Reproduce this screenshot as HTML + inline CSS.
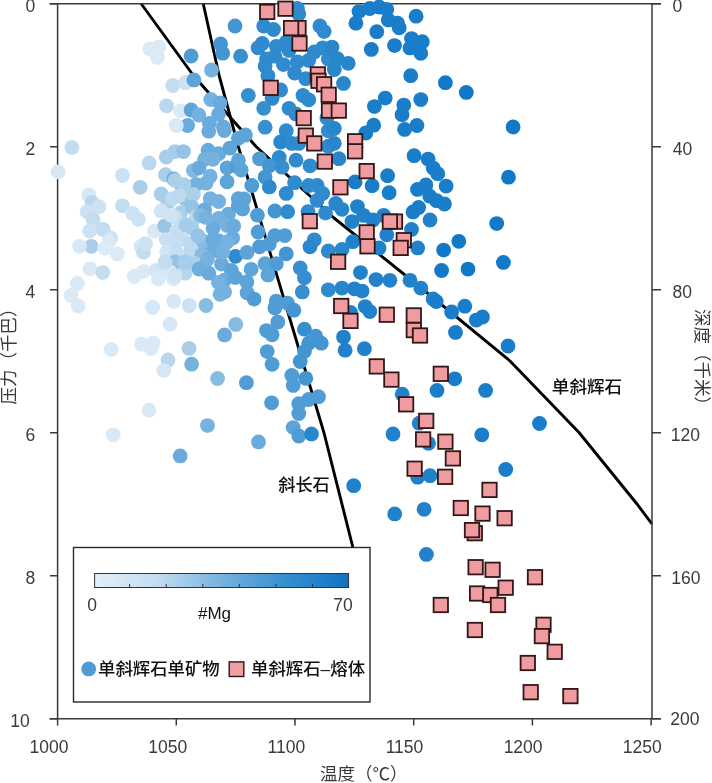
<!DOCTYPE html><html><head><meta charset="utf-8"><style>html,body{margin:0;padding:0;background:#fff;}svg{display:block}</style></head><body><svg width="712" height="783" viewBox="0 0 712 783"><polyline points="141.0,3.5 193.0,75.0 256.0,146.5 334.0,218.0 423.0,289.5 510.0,361.0 579.0,432.5 637.0,504.0 652.0,524.0" fill="none" stroke="#000" stroke-width="2.9" stroke-linejoin="round"/>
<polyline points="203.2,3.5 219.0,75.0 238.3,146.5 323.9,432.5 352.8,547.0" fill="none" stroke="#000" stroke-width="2.9" stroke-linejoin="round"/>
<g stroke="#3a3a3a" stroke-width="1.5" fill="none">
<path d="M49.5,3.7H661M49.5,718.7H661M57.6,3.7V718.7M652,3.7V718.7"/>
<path d="M50,3.7H57.6M652,3.7H661M50,146.7H57.6M652,146.7H661M50,289.7H57.6M652,289.7H661M50,432.7H57.6M652,432.7H661M50,575.7H57.6M652,575.7H661M50,718.7H57.6M652,718.7H661M57.6,718.5V725.5M176.3,718.5V725.5M295.0,718.5V725.5M413.7,718.5V725.5M532.4,718.5V725.5M651.1,718.5V725.5"/>
</g>
<g><circle cx="149.7" cy="49.0" r="7.4" fill="#dceaf6"/><circle cx="158.8" cy="46.9" r="7.4" fill="#dceaf6"/><circle cx="157.4" cy="57.4" r="7.4" fill="#dceaf6"/><circle cx="191.1" cy="56.0" r="7.4" fill="#509dd6"/><circle cx="220.6" cy="44.0" r="7.4" fill="#4496d3"/><circle cx="222.7" cy="53.2" r="7.4" fill="#4496d3"/><circle cx="211.5" cy="70.0" r="7.4" fill="#76b2df"/><circle cx="172.8" cy="85.5" r="7.4" fill="#c3ddf0"/><circle cx="185.5" cy="82.7" r="7.4" fill="#cde2f2"/><circle cx="193.9" cy="79.9" r="7.4" fill="#5da4d9"/><circle cx="166.5" cy="105.8" r="7.4" fill="#bad8ed"/><circle cx="180.6" cy="110.8" r="7.4" fill="#dae9f6"/><circle cx="191.1" cy="110.0" r="7.4" fill="#5da4d9"/><circle cx="198.8" cy="115.0" r="7.4" fill="#76b2df"/><circle cx="210.8" cy="99.5" r="7.4" fill="#76b2df"/><circle cx="219.9" cy="103.0" r="7.4" fill="#69abdc"/><circle cx="218.5" cy="114.3" r="7.4" fill="#69abdc"/><circle cx="209.4" cy="123.4" r="7.4" fill="#69abdc"/><circle cx="223.4" cy="126.9" r="7.4" fill="#69abdc"/><circle cx="187.6" cy="125.5" r="7.4" fill="#69abdc"/><circle cx="176.3" cy="125.5" r="7.4" fill="#dae9f6"/><circle cx="235.0" cy="26.0" r="7.4" fill="#4496d3"/><circle cx="240.6" cy="56.2" r="7.4" fill="#378fd0"/><circle cx="248.3" cy="95.5" r="7.4" fill="#378fd0"/><circle cx="58.1" cy="171.8" r="7.4" fill="#d6e7f5"/><circle cx="71.9" cy="147.4" r="7.4" fill="#c3ddf0"/><circle cx="122.5" cy="175.5" r="7.4" fill="#cde2f2"/><circle cx="149.1" cy="162.9" r="7.4" fill="#bad8ed"/><circle cx="140.2" cy="187.3" r="7.4" fill="#a9ceea"/><circle cx="166.3" cy="157.0" r="7.4" fill="#a9ceea"/><circle cx="165.5" cy="174.7" r="7.4" fill="#a9ceea"/><circle cx="88.8" cy="194.9" r="7.4" fill="#d6e7f5"/><circle cx="92.1" cy="202.5" r="7.4" fill="#bad8ed"/><circle cx="98.9" cy="206.7" r="7.4" fill="#cde2f2"/><circle cx="87.1" cy="211.7" r="7.4" fill="#cde2f2"/><circle cx="93.0" cy="219.3" r="7.4" fill="#c3ddf0"/><circle cx="89.6" cy="231.1" r="7.4" fill="#cde2f2"/><circle cx="103.1" cy="229.4" r="7.4" fill="#c3ddf0"/><circle cx="110.7" cy="237.9" r="7.4" fill="#cde2f2"/><circle cx="91.3" cy="246.3" r="7.4" fill="#a9ceea"/><circle cx="79.5" cy="246.3" r="7.4" fill="#d6e7f5"/><circle cx="122.5" cy="205.8" r="7.4" fill="#c3ddf0"/><circle cx="132.6" cy="213.4" r="7.4" fill="#cde2f2"/><circle cx="138.5" cy="219.3" r="7.4" fill="#cde2f2"/><circle cx="141.0" cy="246.3" r="7.4" fill="#d6e7f5"/><circle cx="161.2" cy="194.0" r="7.4" fill="#a9ceea"/><circle cx="168.0" cy="202.5" r="7.4" fill="#a9ceea"/><circle cx="154.5" cy="231.1" r="7.4" fill="#d8e8f5"/><circle cx="161.2" cy="210.9" r="7.4" fill="#d0e4f3"/><circle cx="164.6" cy="226.0" r="7.4" fill="#98c5e6"/><circle cx="166.3" cy="239.6" r="7.4" fill="#c7dff1"/><circle cx="109.0" cy="241.4" r="7.4" fill="#dae9f6"/><circle cx="104.8" cy="248.4" r="7.4" fill="#deecf7"/><circle cx="117.4" cy="254.0" r="7.4" fill="#dceaf6"/><circle cx="90.0" cy="268.8" r="7.4" fill="#dae9f6"/><circle cx="102.7" cy="272.6" r="7.4" fill="#c3ddf0"/><circle cx="77.4" cy="283.5" r="7.4" fill="#dae9f6"/><circle cx="71.1" cy="295.5" r="7.4" fill="#dceaf6"/><circle cx="78.1" cy="306.0" r="7.4" fill="#dae9f6"/><circle cx="134.3" cy="276.5" r="7.4" fill="#dae9f6"/><circle cx="143.4" cy="271.6" r="7.4" fill="#dae9f6"/><circle cx="143.4" cy="252.0" r="7.4" fill="#c3ddf0"/><circle cx="152.7" cy="307.5" r="7.4" fill="#d6e7f5"/><circle cx="170.1" cy="324.2" r="7.4" fill="#d6e7f5"/><circle cx="111.1" cy="349.5" r="7.4" fill="#dae9f6"/><circle cx="141.6" cy="344.2" r="7.4" fill="#dae9f6"/><circle cx="153.2" cy="343.2" r="7.4" fill="#dae9f6"/><circle cx="151.1" cy="348.4" r="7.4" fill="#dae9f6"/><circle cx="168.0" cy="360.0" r="7.4" fill="#bad8ed"/><circle cx="163.8" cy="370.6" r="7.4" fill="#d6e7f5"/><circle cx="189.0" cy="348.4" r="7.4" fill="#a9ceea"/><circle cx="191.6" cy="364.2" r="7.4" fill="#76b2df"/><circle cx="149.0" cy="410.2" r="7.4" fill="#dae9f6"/><circle cx="113.2" cy="434.8" r="7.4" fill="#dae9f6"/><circle cx="180.2" cy="455.9" r="7.4" fill="#69abdc"/><circle cx="208.8" cy="131.2" r="7.4" fill="#69abdc"/><circle cx="224.3" cy="130.5" r="7.4" fill="#69abdc"/><circle cx="238.3" cy="138.3" r="7.4" fill="#5da4d9"/><circle cx="175.1" cy="151.6" r="7.4" fill="#a6cde9"/><circle cx="183.5" cy="151.6" r="7.4" fill="#95c3e5"/><circle cx="208.1" cy="150.2" r="7.4" fill="#69abdc"/><circle cx="218.7" cy="153.7" r="7.4" fill="#69abdc"/><circle cx="229.9" cy="148.1" r="7.4" fill="#5da4d9"/><circle cx="204.6" cy="159.3" r="7.4" fill="#76b2df"/><circle cx="213.0" cy="159.3" r="7.4" fill="#76b2df"/><circle cx="193.4" cy="170.6" r="7.4" fill="#84bae2"/><circle cx="199.0" cy="167.8" r="7.4" fill="#69abdc"/><circle cx="210.2" cy="176.2" r="7.4" fill="#76b2df"/><circle cx="206.0" cy="183.2" r="7.4" fill="#76b2df"/><circle cx="196.2" cy="184.6" r="7.4" fill="#73b1de"/><circle cx="182.1" cy="186.0" r="7.4" fill="#71afde"/><circle cx="173.7" cy="179.0" r="7.4" fill="#71afde"/><circle cx="227.1" cy="167.8" r="7.4" fill="#5da4d9"/><circle cx="227.1" cy="181.8" r="7.4" fill="#5da4d9"/><circle cx="236.9" cy="166.3" r="7.4" fill="#509dd6"/><circle cx="172.3" cy="198.7" r="7.4" fill="#bedaee"/><circle cx="185.0" cy="198.7" r="7.4" fill="#95c3e5"/><circle cx="193.4" cy="194.4" r="7.4" fill="#acd0ea"/><circle cx="210.2" cy="198.7" r="7.4" fill="#76b2df"/><circle cx="218.7" cy="201.5" r="7.4" fill="#76b2df"/><circle cx="180.7" cy="212.7" r="7.4" fill="#acd0ea"/><circle cx="192.0" cy="207.1" r="7.4" fill="#95c3e5"/><circle cx="204.6" cy="209.9" r="7.4" fill="#69abdc"/><circle cx="228.5" cy="214.1" r="7.4" fill="#69abdc"/><circle cx="238.3" cy="205.7" r="7.4" fill="#5da4d9"/><circle cx="238.3" cy="198.7" r="7.4" fill="#5da4d9"/><circle cx="175.1" cy="216.9" r="7.4" fill="#c5def0"/><circle cx="196.2" cy="216.9" r="7.4" fill="#bcd9ee"/><circle cx="200.4" cy="215.6" r="7.4" fill="#87bce2"/><circle cx="218.7" cy="218.4" r="7.4" fill="#76b2df"/><circle cx="176.5" cy="231.1" r="7.4" fill="#c5def0"/><circle cx="192.0" cy="228.3" r="7.4" fill="#a6cde9"/><circle cx="213.0" cy="228.3" r="7.4" fill="#69abdc"/><circle cx="227.1" cy="225.4" r="7.4" fill="#76b2df"/><circle cx="232.7" cy="238.1" r="7.4" fill="#69abdc"/><circle cx="218.7" cy="240.9" r="7.4" fill="#69abdc"/><circle cx="182.1" cy="239.5" r="7.4" fill="#c5def0"/><circle cx="196.2" cy="242.3" r="7.4" fill="#bcd9ee"/><circle cx="206.0" cy="246.5" r="7.4" fill="#69abdc"/><circle cx="145.6" cy="243.7" r="7.4" fill="#cde2f2"/><circle cx="166.7" cy="252.1" r="7.4" fill="#d0e4f3"/><circle cx="176.5" cy="252.1" r="7.4" fill="#c5def0"/><circle cx="190.6" cy="252.1" r="7.4" fill="#bcd9ee"/><circle cx="201.8" cy="254.9" r="7.4" fill="#87bce2"/><circle cx="215.8" cy="250.7" r="7.4" fill="#69abdc"/><circle cx="235.5" cy="256.3" r="7.4" fill="#308ace"/><circle cx="175.1" cy="262.0" r="7.4" fill="#95c3e5"/><circle cx="194.8" cy="263.4" r="7.4" fill="#acd0ea"/><circle cx="207.4" cy="259.2" r="7.4" fill="#76b2df"/><circle cx="221.5" cy="264.1" r="7.4" fill="#69abdc"/><circle cx="156.2" cy="270.4" r="7.4" fill="#d0e4f3"/><circle cx="169.5" cy="271.8" r="7.4" fill="#d8e8f5"/><circle cx="185.0" cy="273.2" r="7.4" fill="#b7d6ec"/><circle cx="199.0" cy="269.0" r="7.4" fill="#6eaedd"/><circle cx="208.8" cy="273.2" r="7.4" fill="#69abdc"/><circle cx="231.3" cy="270.4" r="7.4" fill="#5da4d9"/><circle cx="224.3" cy="280.2" r="7.4" fill="#69abdc"/><circle cx="158.3" cy="278.8" r="7.4" fill="#dae9f6"/><circle cx="173.7" cy="278.8" r="7.4" fill="#dae9f6"/><circle cx="235.5" cy="277.4" r="7.4" fill="#5da4d9"/><circle cx="220.1" cy="294.3" r="7.4" fill="#76b2df"/><circle cx="173.7" cy="301.3" r="7.4" fill="#d6e7f5"/><circle cx="189.2" cy="305.5" r="7.4" fill="#cde2f2"/><circle cx="206.0" cy="305.5" r="7.4" fill="#87bce2"/><circle cx="224.6" cy="292.1" r="7.4" fill="#76b2df"/><circle cx="247.1" cy="292.8" r="7.4" fill="#5da4d9"/><circle cx="254.1" cy="299.1" r="7.4" fill="#509dd6"/><circle cx="235.8" cy="324.4" r="7.4" fill="#87bce2"/><circle cx="224.6" cy="334.9" r="7.4" fill="#69abdc"/><circle cx="217.6" cy="378.5" r="7.4" fill="#87bce2"/><circle cx="246.4" cy="382.7" r="7.4" fill="#509dd6"/><circle cx="271.6" cy="402.8" r="7.4" fill="#509dd6"/><circle cx="207.5" cy="425.6" r="7.4" fill="#76b2df"/><circle cx="258.5" cy="441.9" r="7.4" fill="#69abdc"/><circle cx="297.4" cy="8.4" r="7.4" fill="#308ace"/><circle cx="298.8" cy="14.0" r="7.4" fill="#308ace"/><circle cx="263.7" cy="26.0" r="7.4" fill="#308ace"/><circle cx="273.5" cy="29.5" r="7.4" fill="#308ace"/><circle cx="262.3" cy="43.5" r="7.4" fill="#308ace"/><circle cx="319.9" cy="26.0" r="7.4" fill="#308ace"/><circle cx="324.1" cy="31.6" r="7.4" fill="#308ace"/><circle cx="258.1" cy="47.8" r="7.4" fill="#308ace"/><circle cx="276.3" cy="46.3" r="7.4" fill="#308ace"/><circle cx="286.2" cy="42.1" r="7.4" fill="#308ace"/><circle cx="289.0" cy="50.6" r="7.4" fill="#308ace"/><circle cx="266.5" cy="59.0" r="7.4" fill="#308ace"/><circle cx="274.9" cy="56.2" r="7.4" fill="#308ace"/><circle cx="283.4" cy="64.6" r="7.4" fill="#308ace"/><circle cx="265.1" cy="66.0" r="7.4" fill="#308ace"/><circle cx="297.4" cy="61.8" r="7.4" fill="#308ace"/><circle cx="308.7" cy="60.4" r="7.4" fill="#308ace"/><circle cx="314.3" cy="52.0" r="7.4" fill="#308ace"/><circle cx="322.7" cy="47.8" r="7.4" fill="#308ace"/><circle cx="328.3" cy="59.0" r="7.4" fill="#308ace"/><circle cx="294.6" cy="73.0" r="7.4" fill="#308ace"/><circle cx="305.8" cy="78.7" r="7.4" fill="#308ace"/><circle cx="267.9" cy="75.8" r="7.4" fill="#308ace"/><circle cx="280.6" cy="89.9" r="7.4" fill="#308ace"/><circle cx="303.0" cy="95.5" r="7.4" fill="#308ace"/><circle cx="272.1" cy="98.4" r="7.4" fill="#308ace"/><circle cx="263.7" cy="108.3" r="7.4" fill="#378fd0"/><circle cx="308.7" cy="99.8" r="7.4" fill="#308ace"/><circle cx="289.0" cy="108.3" r="7.4" fill="#308ace"/><circle cx="296.0" cy="113.9" r="7.4" fill="#308ace"/><circle cx="265.1" cy="127.2" r="7.4" fill="#378fd0"/><circle cx="286.2" cy="130.7" r="7.4" fill="#308ace"/><circle cx="280.6" cy="142.0" r="7.4" fill="#2886cd"/><circle cx="291.8" cy="143.4" r="7.4" fill="#308ace"/><circle cx="298.8" cy="143.4" r="7.4" fill="#308ace"/><circle cx="326.9" cy="118.1" r="7.4" fill="#308ace"/><circle cx="328.3" cy="130.7" r="7.4" fill="#308ace"/><circle cx="328.3" cy="146.2" r="7.4" fill="#308ace"/><circle cx="245.4" cy="135.0" r="7.4" fill="#5da4d9"/><circle cx="238.4" cy="160.2" r="7.4" fill="#5da4d9"/><circle cx="241.2" cy="170.1" r="7.4" fill="#5da4d9"/><circle cx="259.5" cy="158.8" r="7.4" fill="#509dd6"/><circle cx="279.2" cy="157.4" r="7.4" fill="#308ace"/><circle cx="296.0" cy="160.2" r="7.4" fill="#308ace"/><circle cx="310.0" cy="165.8" r="7.4" fill="#308ace"/><circle cx="269.3" cy="165.8" r="7.4" fill="#4496d3"/><circle cx="282.0" cy="167.2" r="7.4" fill="#378fd0"/><circle cx="265.1" cy="177.1" r="7.4" fill="#4496d3"/><circle cx="251.8" cy="185.5" r="7.4" fill="#509dd6"/><circle cx="269.3" cy="186.9" r="7.4" fill="#308ace"/><circle cx="294.6" cy="182.7" r="7.4" fill="#308ace"/><circle cx="308.7" cy="185.5" r="7.4" fill="#308ace"/><circle cx="317.1" cy="185.5" r="7.4" fill="#308ace"/><circle cx="286.2" cy="193.4" r="7.4" fill="#308ace"/><circle cx="317.1" cy="200.4" r="7.4" fill="#308ace"/><circle cx="322.7" cy="193.4" r="7.4" fill="#308ace"/><circle cx="325.5" cy="213.1" r="7.4" fill="#308ace"/><circle cx="244.0" cy="199.0" r="7.4" fill="#5da4d9"/><circle cx="242.6" cy="208.9" r="7.4" fill="#5da4d9"/><circle cx="257.4" cy="215.2" r="7.4" fill="#509dd6"/><circle cx="274.9" cy="211.0" r="7.4" fill="#4496d3"/><circle cx="287.6" cy="211.7" r="7.4" fill="#308ace"/><circle cx="308.0" cy="211.7" r="7.4" fill="#308ace"/><circle cx="258.1" cy="232.0" r="7.4" fill="#509dd6"/><circle cx="274.9" cy="235.6" r="7.4" fill="#509dd6"/><circle cx="284.8" cy="235.6" r="7.4" fill="#509dd6"/><circle cx="314.3" cy="239.8" r="7.4" fill="#308ace"/><circle cx="310.0" cy="246.8" r="7.4" fill="#2886cd"/><circle cx="259.5" cy="246.8" r="7.4" fill="#509dd6"/><circle cx="269.3" cy="244.0" r="7.4" fill="#509dd6"/><circle cx="286.2" cy="253.8" r="7.4" fill="#4496d3"/><circle cx="246.9" cy="252.4" r="7.4" fill="#5da4d9"/><circle cx="251.1" cy="269.3" r="7.4" fill="#5da4d9"/><circle cx="265.1" cy="263.7" r="7.4" fill="#5da4d9"/><circle cx="276.3" cy="263.7" r="7.4" fill="#509dd6"/><circle cx="267.9" cy="274.9" r="7.4" fill="#5da4d9"/><circle cx="246.9" cy="281.9" r="7.4" fill="#5da4d9"/><circle cx="300.2" cy="267.9" r="7.4" fill="#378fd0"/><circle cx="304.4" cy="277.7" r="7.4" fill="#378fd0"/><circle cx="328.3" cy="251.0" r="7.4" fill="#308ace"/><circle cx="276.3" cy="301.1" r="7.4" fill="#509dd6"/><circle cx="274.9" cy="308.1" r="7.4" fill="#509dd6"/><circle cx="287.6" cy="303.2" r="7.4" fill="#509dd6"/><circle cx="293.9" cy="310.2" r="7.4" fill="#4496d3"/><circle cx="302.3" cy="291.9" r="7.4" fill="#378fd0"/><circle cx="328.3" cy="289.8" r="7.4" fill="#308ace"/><circle cx="277.8" cy="322.1" r="7.4" fill="#509dd6"/><circle cx="266.5" cy="330.6" r="7.4" fill="#509dd6"/><circle cx="272.1" cy="334.8" r="7.4" fill="#509dd6"/><circle cx="304.4" cy="329.2" r="7.4" fill="#378fd0"/><circle cx="315.7" cy="336.2" r="7.4" fill="#4496d3"/><circle cx="321.3" cy="343.2" r="7.4" fill="#4496d3"/><circle cx="308.7" cy="343.2" r="7.4" fill="#4496d3"/><circle cx="304.4" cy="351.6" r="7.4" fill="#4496d3"/><circle cx="300.2" cy="361.5" r="7.4" fill="#4496d3"/><circle cx="267.2" cy="351.6" r="7.4" fill="#509dd6"/><circle cx="272.1" cy="364.3" r="7.4" fill="#509dd6"/><circle cx="291.8" cy="375.5" r="7.4" fill="#509dd6"/><circle cx="305.8" cy="378.3" r="7.4" fill="#4496d3"/><circle cx="293.2" cy="385.4" r="7.4" fill="#509dd6"/><circle cx="318.5" cy="396.7" r="7.4" fill="#509dd6"/><circle cx="308.7" cy="399.5" r="7.4" fill="#509dd6"/><circle cx="298.8" cy="403.7" r="7.4" fill="#509dd6"/><circle cx="298.8" cy="413.5" r="7.4" fill="#509dd6"/><circle cx="293.2" cy="427.6" r="7.4" fill="#5da4d9"/><circle cx="298.8" cy="436.0" r="7.4" fill="#509dd6"/><circle cx="311.5" cy="433.9" r="7.4" fill="#2886cd"/><circle cx="355.9" cy="23.2" r="7.4" fill="#197dca"/><circle cx="359.0" cy="11.6" r="7.4" fill="#197dca"/><circle cx="369.8" cy="8.5" r="7.4" fill="#197dca"/><circle cx="379.1" cy="7.0" r="7.4" fill="#197dca"/><circle cx="386.8" cy="9.3" r="7.4" fill="#197dca"/><circle cx="388.3" cy="20.1" r="7.4" fill="#197dca"/><circle cx="397.6" cy="23.2" r="7.4" fill="#197dca"/><circle cx="399.2" cy="27.8" r="7.4" fill="#197dca"/><circle cx="376.8" cy="31.7" r="7.4" fill="#197dca"/><circle cx="416.1" cy="16.2" r="7.4" fill="#197dca"/><circle cx="371.3" cy="49.4" r="7.4" fill="#197dca"/><circle cx="394.5" cy="45.6" r="7.4" fill="#197dca"/><circle cx="411.5" cy="38.6" r="7.4" fill="#197dca"/><circle cx="410.0" cy="47.9" r="7.4" fill="#197dca"/><circle cx="422.3" cy="41.7" r="7.4" fill="#197dca"/><circle cx="420.8" cy="53.3" r="7.4" fill="#197dca"/><circle cx="332.0" cy="47.1" r="7.4" fill="#2886cd"/><circle cx="337.4" cy="58.7" r="7.4" fill="#2886cd"/><circle cx="348.2" cy="63.3" r="7.4" fill="#2886cd"/><circle cx="334.3" cy="69.5" r="7.4" fill="#2886cd"/><circle cx="343.5" cy="83.4" r="7.4" fill="#2886cd"/><circle cx="410.7" cy="75.7" r="7.4" fill="#197dca"/><circle cx="385.2" cy="98.1" r="7.4" fill="#197dca"/><circle cx="374.4" cy="106.6" r="7.4" fill="#197dca"/><circle cx="403.8" cy="105.1" r="7.4" fill="#197dca"/><circle cx="420.8" cy="99.6" r="7.4" fill="#197dca"/><circle cx="334.3" cy="128.5" r="7.4" fill="#2886cd"/><circle cx="373.7" cy="125.2" r="7.4" fill="#197dca"/><circle cx="365.8" cy="133.0" r="7.4" fill="#197dca"/><circle cx="402.0" cy="114.7" r="7.4" fill="#197dca"/><circle cx="404.6" cy="129.4" r="7.4" fill="#197dca"/><circle cx="416.9" cy="125.5" r="7.4" fill="#197dca"/><circle cx="334.3" cy="143.3" r="7.4" fill="#2886cd"/><circle cx="338.9" cy="158.7" r="7.4" fill="#2886cd"/><circle cx="387.6" cy="175.7" r="7.4" fill="#197dca"/><circle cx="372.1" cy="185.7" r="7.4" fill="#197dca"/><circle cx="355.1" cy="181.9" r="7.4" fill="#197dca"/><circle cx="389.1" cy="192.7" r="7.4" fill="#197dca"/><circle cx="335.8" cy="203.5" r="7.4" fill="#2886cd"/><circle cx="357.4" cy="206.6" r="7.4" fill="#2181cb"/><circle cx="342.0" cy="209.3" r="7.4" fill="#2886cd"/><circle cx="352.0" cy="221.6" r="7.4" fill="#2181cb"/><circle cx="363.6" cy="215.4" r="7.4" fill="#2181cb"/><circle cx="372.9" cy="220.0" r="7.4" fill="#2181cb"/><circle cx="383.7" cy="215.4" r="7.4" fill="#2181cb"/><circle cx="386.8" cy="234.8" r="7.4" fill="#2181cb"/><circle cx="411.5" cy="229.4" r="7.4" fill="#2181cb"/><circle cx="430.0" cy="220.0" r="7.4" fill="#2181cb"/><circle cx="352.8" cy="241.7" r="7.4" fill="#2181cb"/><circle cx="379.1" cy="247.9" r="7.4" fill="#2181cb"/><circle cx="417.7" cy="247.9" r="7.4" fill="#2181cb"/><circle cx="342.0" cy="249.4" r="7.4" fill="#2886cd"/><circle cx="360.5" cy="272.6" r="7.4" fill="#2181cb"/><circle cx="376.0" cy="279.6" r="7.4" fill="#2181cb"/><circle cx="389.9" cy="280.3" r="7.4" fill="#2181cb"/><circle cx="410.0" cy="280.3" r="7.4" fill="#2181cb"/><circle cx="420.8" cy="288.1" r="7.4" fill="#2181cb"/><circle cx="433.1" cy="298.9" r="7.4" fill="#2181cb"/><circle cx="342.0" cy="288.1" r="7.4" fill="#2886cd"/><circle cx="354.4" cy="288.8" r="7.4" fill="#2181cb"/><circle cx="362.1" cy="291.1" r="7.4" fill="#2181cb"/><circle cx="365.2" cy="306.6" r="7.4" fill="#2181cb"/><circle cx="369.8" cy="311.6" r="7.4" fill="#2181cb"/><circle cx="350.5" cy="312.4" r="7.4" fill="#2181cb"/><circle cx="343.5" cy="337.1" r="7.4" fill="#2181cb"/><circle cx="345.1" cy="350.2" r="7.4" fill="#2181cb"/><circle cx="364.4" cy="348.7" r="7.4" fill="#2181cb"/><circle cx="402.2" cy="394.2" r="7.4" fill="#2181cb"/><circle cx="437.0" cy="390.4" r="7.4" fill="#197dca"/><circle cx="393.0" cy="434.0" r="7.4" fill="#2181cb"/><circle cx="353.7" cy="485.7" r="7.4" fill="#2181cb"/><circle cx="419.2" cy="423.2" r="7.4" fill="#2181cb"/><circle cx="428.5" cy="443.3" r="7.4" fill="#2181cb"/><circle cx="417.7" cy="477.2" r="7.4" fill="#2181cb"/><circle cx="430.0" cy="475.7" r="7.4" fill="#2181cb"/><circle cx="394.7" cy="513.9" r="7.4" fill="#2181cb"/><circle cx="424.1" cy="509.3" r="7.4" fill="#2181cb"/><circle cx="426.4" cy="554.4" r="7.4" fill="#2181cb"/><circle cx="481.8" cy="434.8" r="7.4" fill="#197dca"/><circle cx="539.5" cy="423.5" r="7.4" fill="#197dca"/><circle cx="505.7" cy="469.5" r="7.4" fill="#197dca"/><circle cx="436.2" cy="301.5" r="7.4" fill="#197dca"/><circle cx="451.6" cy="312.0" r="7.4" fill="#197dca"/><circle cx="464.8" cy="306.2" r="7.4" fill="#197dca"/><circle cx="476.3" cy="320.1" r="7.4" fill="#197dca"/><circle cx="482.5" cy="317.0" r="7.4" fill="#197dca"/><circle cx="455.5" cy="332.4" r="7.4" fill="#197dca"/><circle cx="508.0" cy="346.0" r="7.4" fill="#197dca"/><circle cx="454.7" cy="378.8" r="7.4" fill="#197dca"/><circle cx="485.6" cy="390.4" r="7.4" fill="#197dca"/><circle cx="414.1" cy="155.7" r="7.4" fill="#197dca"/><circle cx="428.1" cy="159.1" r="7.4" fill="#197dca"/><circle cx="433.2" cy="168.1" r="7.4" fill="#197dca"/><circle cx="437.7" cy="173.7" r="7.4" fill="#197dca"/><circle cx="446.1" cy="186.1" r="7.4" fill="#197dca"/><circle cx="417.5" cy="189.4" r="7.4" fill="#197dca"/><circle cx="425.9" cy="184.9" r="7.4" fill="#197dca"/><circle cx="429.8" cy="196.2" r="7.4" fill="#197dca"/><circle cx="436.6" cy="200.7" r="7.4" fill="#197dca"/><circle cx="444.4" cy="204.0" r="7.4" fill="#197dca"/><circle cx="418.6" cy="207.4" r="7.4" fill="#197dca"/><circle cx="413.0" cy="211.9" r="7.4" fill="#197dca"/><circle cx="445.4" cy="82.7" r="7.4" fill="#1278c8"/><circle cx="466.3" cy="92.4" r="7.4" fill="#1278c8"/><circle cx="513.1" cy="127.0" r="7.4" fill="#1278c8"/><circle cx="508.5" cy="177.2" r="7.4" fill="#1278c8"/><circle cx="496.7" cy="223.6" r="7.4" fill="#1278c8"/><circle cx="458.8" cy="241.3" r="7.4" fill="#1278c8"/><circle cx="443.6" cy="250.1" r="7.4" fill="#1278c8"/><circle cx="503.4" cy="262.4" r="7.4" fill="#1278c8"/><circle cx="441.6" cy="270.5" r="7.4" fill="#1278c8"/><circle cx="468.0" cy="269.1" r="7.4" fill="#1278c8"/><circle cx="175.1" cy="180.4" r="7.4" fill="#acd0ea"/><circle cx="183.8" cy="184.7" r="7.4" fill="#acd0ea"/><circle cx="179.5" cy="195.6" r="7.4" fill="#bcd9ee"/><circle cx="170.8" cy="215.1" r="7.4" fill="#d0e4f3"/><circle cx="205.5" cy="217.3" r="7.4" fill="#76b2df"/><circle cx="233.7" cy="226.0" r="7.4" fill="#69abdc"/><circle cx="175.1" cy="241.2" r="7.4" fill="#c5def0"/><circle cx="190.3" cy="243.3" r="7.4" fill="#bcd9ee"/><circle cx="203.3" cy="241.2" r="7.4" fill="#87bce2"/><circle cx="222.9" cy="252.0" r="7.4" fill="#76b2df"/><circle cx="175.1" cy="275.9" r="7.4" fill="#cfe3f3"/><circle cx="218.5" cy="282.4" r="7.4" fill="#76b2df"/><circle cx="186.0" cy="225.0" r="7.4" fill="#a6cde9"/><circle cx="198.0" cy="236.0" r="7.4" fill="#95c3e5"/><circle cx="165.0" cy="262.0" r="7.4" fill="#c3ddf0"/><circle cx="185.0" cy="262.0" r="7.4" fill="#a6cde9"/><circle cx="213.0" cy="240.0" r="7.4" fill="#69abdc"/><circle cx="227.0" cy="242.0" r="7.4" fill="#76b2df"/></g>
<g fill="#ef9ba0" stroke="#301818" stroke-width="1.8"><rect x="260.0" y="4.7" width="14.4" height="14.4"/><rect x="278.3" y="1.5" width="14.4" height="14.4"/><rect x="291.3" y="20.9" width="14.4" height="14.4"/><rect x="283.9" y="20.9" width="14.4" height="14.4"/><rect x="292.3" y="36.3" width="14.4" height="14.4"/><rect x="263.5" y="80.6" width="14.4" height="14.4"/><rect x="310.6" y="67.2" width="14.4" height="14.4"/><rect x="311.3" y="73.6" width="14.4" height="14.4"/><rect x="316.9" y="77.1" width="14.4" height="14.4"/><rect x="321.5" y="87.6" width="14.4" height="14.4"/><rect x="296.5" y="110.9" width="14.4" height="14.4"/><rect x="298.6" y="128.4" width="14.4" height="14.4"/><rect x="307.1" y="136.2" width="14.4" height="14.4"/><rect x="317.6" y="154.4" width="14.4" height="14.4"/><rect x="321.8" y="103.4" width="14.4" height="14.4"/><rect x="302.6" y="214.0" width="14.4" height="14.4"/><rect x="331.6" y="103.4" width="14.4" height="14.4"/><rect x="347.9" y="134.1" width="14.4" height="14.4"/><rect x="347.9" y="144.1" width="14.4" height="14.4"/><rect x="359.5" y="163.9" width="14.4" height="14.4"/><rect x="333.2" y="180.1" width="14.4" height="14.4"/><rect x="387.8" y="214.4" width="14.4" height="14.4"/><rect x="382.7" y="214.4" width="14.4" height="14.4"/><rect x="359.5" y="225.2" width="14.4" height="14.4"/><rect x="360.3" y="239.1" width="14.4" height="14.4"/><rect x="396.6" y="233.0" width="14.4" height="14.4"/><rect x="393.5" y="240.7" width="14.4" height="14.4"/><rect x="330.9" y="254.6" width="14.4" height="14.4"/><rect x="334.0" y="298.8" width="14.4" height="14.4"/><rect x="343.3" y="313.7" width="14.4" height="14.4"/><rect x="379.6" y="307.5" width="14.4" height="14.4"/><rect x="406.6" y="308.2" width="14.4" height="14.4"/><rect x="406.6" y="322.9" width="14.4" height="14.4"/><rect x="412.8" y="328.3" width="14.4" height="14.4"/><rect x="369.6" y="359.2" width="14.4" height="14.4"/><rect x="384.2" y="372.4" width="14.4" height="14.4"/><rect x="398.9" y="397.1" width="14.4" height="14.4"/><rect x="419.0" y="413.7" width="14.4" height="14.4"/><rect x="415.9" y="432.2" width="14.4" height="14.4"/><rect x="407.4" y="461.5" width="14.4" height="14.4"/><rect x="438.2" y="434.5" width="14.4" height="14.4"/><rect x="445.7" y="451.2" width="14.4" height="14.4"/><rect x="437.9" y="469.6" width="14.4" height="14.4"/><rect x="482.3" y="482.7" width="14.4" height="14.4"/><rect x="453.6" y="500.8" width="14.4" height="14.4"/><rect x="475.3" y="506.4" width="14.4" height="14.4"/><rect x="497.4" y="511.0" width="14.4" height="14.4"/><rect x="467.6" y="526.0" width="14.4" height="14.4"/><rect x="464.8" y="522.9" width="14.4" height="14.4"/><rect x="468.4" y="560.0" width="14.4" height="14.4"/><rect x="485.4" y="562.6" width="14.4" height="14.4"/><rect x="527.8" y="570.0" width="14.4" height="14.4"/><rect x="498.5" y="580.5" width="14.4" height="14.4"/><rect x="469.9" y="586.3" width="14.4" height="14.4"/><rect x="483.1" y="587.8" width="14.4" height="14.4"/><rect x="490.8" y="597.8" width="14.4" height="14.4"/><rect x="433.6" y="597.8" width="14.4" height="14.4"/><rect x="467.7" y="622.8" width="14.4" height="14.4"/><rect x="536.3" y="617.6" width="14.4" height="14.4"/><rect x="534.7" y="628.9" width="14.4" height="14.4"/><rect x="547.5" y="644.6" width="14.4" height="14.4"/><rect x="520.6" y="655.8" width="14.4" height="14.4"/><rect x="523.5" y="685.0" width="14.4" height="14.4"/><rect x="563.2" y="688.9" width="14.4" height="14.4"/><rect x="433.6" y="366.6" width="14.4" height="14.4"/></g>
<text x="25.4" y="11.7" font-family="Liberation Sans, Arial, sans-serif" font-size="17.5" fill="#3a3a3a">0</text><text x="25.4" y="154.7" font-family="Liberation Sans, Arial, sans-serif" font-size="17.5" fill="#3a3a3a">2</text><text x="25.4" y="297.7" font-family="Liberation Sans, Arial, sans-serif" font-size="17.5" fill="#3a3a3a">4</text><text x="25.4" y="440.7" font-family="Liberation Sans, Arial, sans-serif" font-size="17.5" fill="#3a3a3a">6</text><text x="25.4" y="583.7" font-family="Liberation Sans, Arial, sans-serif" font-size="17.5" fill="#3a3a3a">8</text><text x="10.2" y="726.7" font-family="Liberation Sans, Arial, sans-serif" font-size="17.5" fill="#3a3a3a">10</text><text x="672.5" y="11.7" font-family="Liberation Sans, Arial, sans-serif" font-size="17.5" fill="#3a3a3a">0</text><text x="672.8" y="154.7" font-family="Liberation Sans, Arial, sans-serif" font-size="17.5" fill="#3a3a3a">40</text><text x="672.6" y="297.7" font-family="Liberation Sans, Arial, sans-serif" font-size="17.5" fill="#3a3a3a">80</text><text x="670.7" y="440.7" font-family="Liberation Sans, Arial, sans-serif" font-size="17.5" fill="#3a3a3a">120</text><text x="671.2" y="583.7" font-family="Liberation Sans, Arial, sans-serif" font-size="17.5" fill="#3a3a3a">160</text><text x="670.3" y="724.6" font-family="Liberation Sans, Arial, sans-serif" font-size="17.5" fill="#3a3a3a">200</text><text x="49.0" y="753" text-anchor="middle" font-family="Liberation Sans, Arial, sans-serif" font-size="17.5" fill="#3a3a3a">1000</text><text x="167.7" y="753" text-anchor="middle" font-family="Liberation Sans, Arial, sans-serif" font-size="17.5" fill="#3a3a3a">1050</text><text x="286.4" y="753" text-anchor="middle" font-family="Liberation Sans, Arial, sans-serif" font-size="17.5" fill="#3a3a3a">1100</text><text x="404.5" y="753" text-anchor="middle" font-family="Liberation Sans, Arial, sans-serif" font-size="17.5" fill="#3a3a3a">1150</text><text x="523.1" y="753" text-anchor="middle" font-family="Liberation Sans, Arial, sans-serif" font-size="17.5" fill="#3a3a3a">1200</text><text x="642.2" y="753" text-anchor="middle" font-family="Liberation Sans, Arial, sans-serif" font-size="17.5" fill="#3a3a3a">1250</text>
<text x="320" y="780" font-family="Liberation Sans, Noto Sans CJK SC, sans-serif" font-size="17.5" fill="#3a3a3a">温度（℃）</text>
<text transform="translate(14.7,352.1) rotate(-90)" text-anchor="middle" font-family="Liberation Sans, Noto Sans CJK SC, sans-serif" font-size="17.5" fill="#3a3a3a">压力（千巴）</text>
<text transform="translate(696,361.5) rotate(90)" text-anchor="middle" font-family="Liberation Sans, Noto Sans CJK SC, sans-serif" font-size="17.5" fill="#3a3a3a">深度（千米）</text>
<text x="551.8" y="392.8" font-family="Liberation Sans, Noto Sans CJK SC, sans-serif" font-size="17.6" font-weight="500" fill="#111">单斜辉石</text>
<text x="278.2" y="491.2" font-family="Liberation Sans, Noto Sans CJK SC, sans-serif" font-size="17.2" font-weight="500" fill="#111">斜长石</text>
<rect x="73.5" y="547.5" width="296.5" height="154.5" fill="#fff" stroke="#2a2a2a" stroke-width="1.4"/><defs><linearGradient id="cb" x1="0" x2="1" y1="0" y2="0"><stop offset="0" stop-color="#e3eef8"/><stop offset="0.25" stop-color="#c3ddf0"/><stop offset="0.5" stop-color="#76b2df"/><stop offset="0.75" stop-color="#378fd0"/><stop offset="1" stop-color="#0f72c4"/></linearGradient></defs><rect x="94.6" y="573.5" width="254" height="14" fill="url(#cb)" stroke="#333" stroke-width="1"/><path d="M129.6,587.5v-3.6M166.2,587.5v-3.6M202.8,587.5v-3.6M239.3,587.5v-3.6M275.9,587.5v-3.6M312.5,587.5v-3.6" stroke="#333" stroke-width="1"/><text x="92" y="611.3" text-anchor="middle" font-family="Liberation Sans, Arial, sans-serif" font-size="17.5" fill="#3a3a3a">0</text><text x="343" y="611.3" text-anchor="middle" font-family="Liberation Sans, Arial, sans-serif" font-size="17.5" fill="#3a3a3a">70</text><text x="214.5" y="619.2" text-anchor="middle" font-family="Liberation Sans, Arial, sans-serif" font-size="17" fill="#111">#Mg</text><circle cx="88.7" cy="668.9" r="7.4" fill="#4e9bd6"/><text x="98" y="675.2" font-family="Liberation Sans, Noto Sans CJK SC, sans-serif" font-size="17.4" font-weight="500" fill="#111">单斜辉石单矿物</text><rect x="229.2" y="661.9" width="14.6" height="14.6" fill="#f19ea3" stroke="#2a1a1a" stroke-width="1.4"/><text x="251" y="675.2" font-family="Liberation Sans, Noto Sans CJK SC, sans-serif" font-size="17.4" font-weight="500" fill="#111">单斜辉石–熔体</text></svg></body></html>
